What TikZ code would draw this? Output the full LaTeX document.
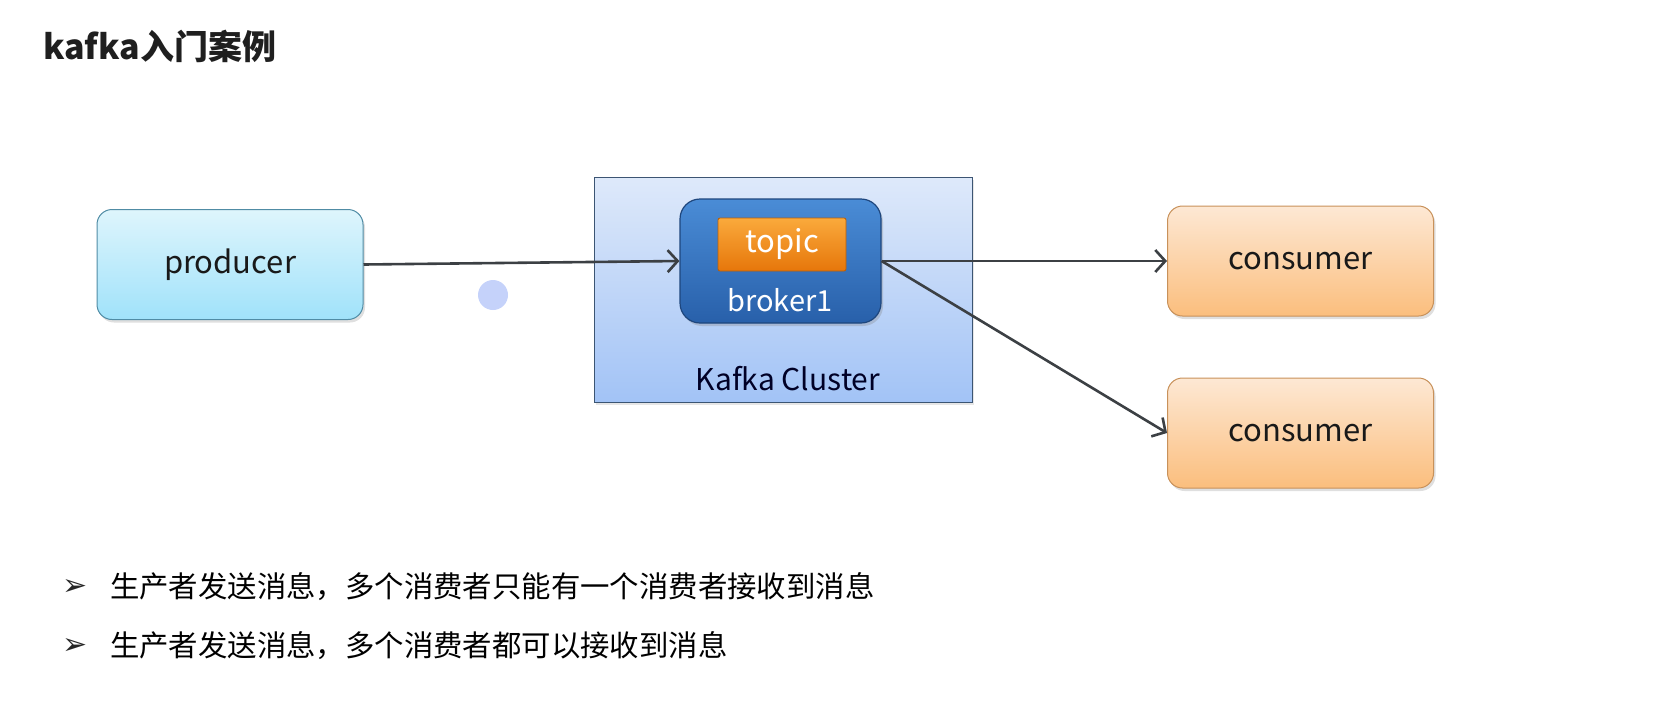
\documentclass[tikz,border=0pt]{standalone}
\usepackage{fontspec}
\setmainfont{Noto Sans CJK SC}
\newfontfamily\dejavu{DejaVu Sans}
\usetikzlibrary{arrows.meta,shadows}
\definecolor{prodtop}{RGB}{222,245,252}
\definecolor{prodbot}{RGB}{160,226,250}
\definecolor{prodline}{RGB}{80,140,165}
\definecolor{constop}{RGB}{253,232,212}
\definecolor{consbot}{RGB}{251,190,125}
\definecolor{consline}{RGB}{200,145,90}
\definecolor{clustop}{RGB}{222,233,250}
\definecolor{clusbot}{RGB}{162,195,246}
\definecolor{clusline}{RGB}{60,85,115}
\definecolor{brokertop}{RGB}{74,140,214}
\definecolor{brokerbot}{RGB}{40,96,170}
\definecolor{brokerline}{RGB}{30,70,125}
\definecolor{topictop}{RGB}{250,170,60}
\definecolor{topicbot}{RGB}{230,118,10}
\definecolor{arrowgray}{RGB}{60,64,68}
\definecolor{dotblue}{RGB}{197,210,250}
\tikzset{
  box/.style={draw,rounded corners=7.5pt,minimum width=133pt,minimum height=55pt,inner sep=0pt,
    line width=0.5pt,font=\fontsize{15.5}{18}\selectfont,text=black!90,
    drop shadow={opacity=0.25,shadow xshift=1pt,shadow yshift=-1.5pt}},
  producerbox/.style={box,draw=prodline,top color=prodtop,bottom color=prodbot},
  consumerbox/.style={box,draw=consline,top color=constop,bottom color=consbot},
  flow/.style={->,line width=1.3pt,draw=arrowgray,>={Straight Barb[length=5pt,width=11pt,line width=1.3pt]}}
}
\begin{document}
\begin{tikzpicture}[x=0.5pt,y=-0.5pt]
  \useasboundingbox (0,0) rectangle (1663,708);
  \node[anchor=west,font=\fontsize{17}{20}\selectfont\bfseries,text=black!88] (title) at (36,46) {kafka入门案例};

  \node[producerbox] (producer) at (230,264.5) {producer};
  \fill[dotblue] (493,295) circle (15);

  \node[draw=clusline,line width=0.5pt,minimum width=189pt,minimum height=112.5pt,
    top color=clustop,bottom color=clusbot,
    drop shadow={opacity=0.2,shadow xshift=1pt,shadow yshift=-1.5pt}] (cluster) at (783,289.5) {};
  \node[font=\fontsize{15}{18}\selectfont,text=black!85!blue] (clusterlabel) at (788,379) {Kafka Cluster};
  \node[draw=brokerline,line width=0.6pt,rounded corners=10pt,minimum width=100.5pt,minimum height=62pt,
    top color=brokertop,bottom color=brokerbot,
    drop shadow={opacity=0.3,shadow xshift=1pt,shadow yshift=-1.5pt}] (broker) at (780.5,261) {};
  \node[draw=topicbot!80!black,line width=0.4pt,rounded corners=1pt,minimum width=64pt,minimum height=26.5pt,
    top color=topictop,bottom color=topicbot,text=white,inner sep=0pt,
    font=\fontsize{15.5}{18}\selectfont] (topic) at (782,244.5) {topic};
  \node[text=white,font=\fontsize{14.5}{17}\selectfont] (brokerlabel) at (780,300) {broker1};

  \node[consumerbox] (consumerA) at (1300.5,261) {consumer};
  \node[consumerbox] (consumerB) at (1300.5,433) {consumer};

  \draw[flow] (producer.east) -- (broker.west);
  \draw[flow] (broker.east) -- (consumerA.west);
  \draw[flow] (broker.east) -- (consumerB.west);

  \foreach \y/\t [count=\i] in {587/生产者发送消息，多个消费者只能有一个消费者接收到消息,646/生产者发送消息，多个消费者都可以接收到消息}{
    \node[font=\dejavu\fontsize{15}{17}\selectfont,text=black!85] (mark\i) at (75,\y) {➢};
    \node[anchor=west,font=\fontsize{14.7}{18}\selectfont] (line\i) at (103,\y) {\t};
  }
\end{tikzpicture}
\end{document}
